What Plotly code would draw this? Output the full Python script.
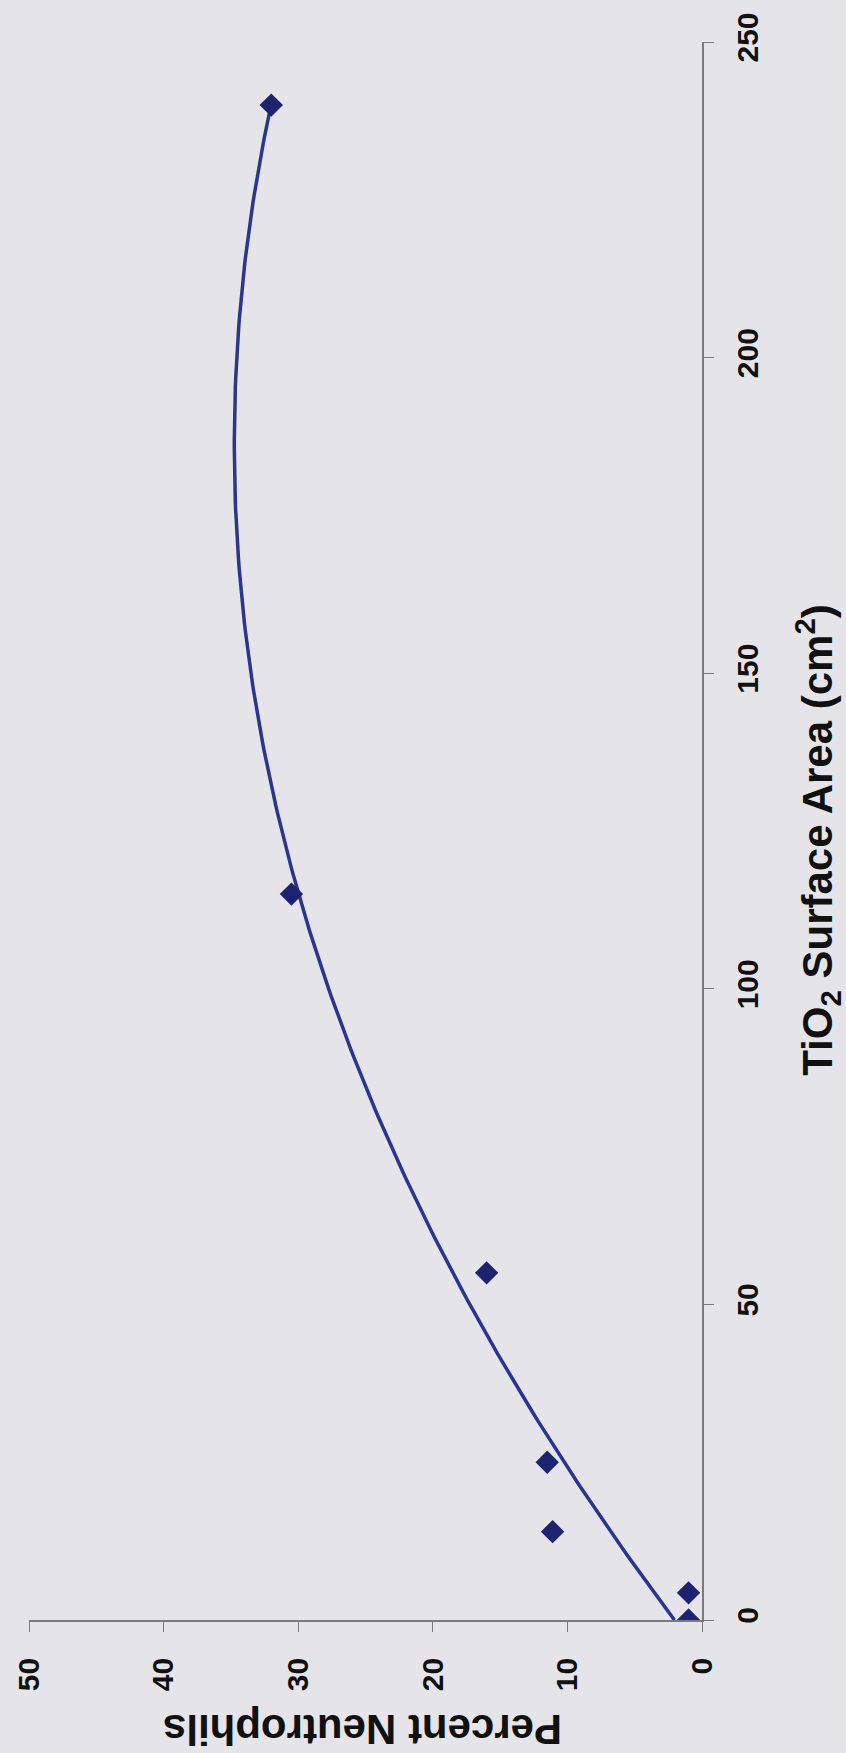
import numpy as np
import plotly.graph_objects as go

# Measured samples: TiO2 surface area (cm^2) and neutrophil percentage
surface_area = [0, 4.3, 14, 25, 55, 115, 240]
percent_neutrophils = [1.0, 1.0, 11.1, 11.5, 16.0, 30.5, 32.0]

pct_ticks = [0, 10, 20, 30, 40, 50]
area_ticks = [0, 50, 100, 150, 200, 250]

# Second-order polynomial trendline fitted to the samples
coef = np.polyfit(surface_area, percent_neutrophils, 2)
fit_area = np.linspace(0, max(surface_area), 200)
fit_pct = np.polyval(coef, fit_area)

navy = "#1c2472"
line_blue = "#2a3590"
bg = "#e5e5e9"
axis_col = "#7a7a7a"
font_family = "Liberation Sans, Arial, sans-serif"
tick_font = dict(size=30, family=font_family, color="#111111", weight="bold")

fig = go.Figure()
fig.add_trace(go.Scatter(
    x=fit_pct, y=fit_area, mode="lines",
    line=dict(color=line_blue, width=3.5),
    hoverinfo="skip", showlegend=False,
))
fig.add_trace(go.Scatter(
    x=percent_neutrophils, y=surface_area, mode="markers",
    marker=dict(symbol="diamond", size=18, color=navy),
    showlegend=False,
))

fig.update_layout(
    width=846, height=1753,
    margin=dict(l=25, r=144, t=37, b=133),
    paper_bgcolor=bg, plot_bgcolor=bg,
    font=dict(family=font_family, color="#111111"),
    xaxis=dict(
        range=[50, 0], tickvals=pct_ticks, ticktext=[str(v) for v in pct_ticks],
        tickangle=-90, ticks="outside", ticklen=10, tickcolor=axis_col,
        ticklabelstandoff=14,
        showline=True, linecolor=axis_col, linewidth=1.5,
        showgrid=False, zeroline=False, tickfont=tick_font,
    ),
    yaxis=dict(
        range=[0, 250], side="right", tickvals=area_ticks,
        ticktext=[str(v) for v in area_ticks],
        tickangle=-90, ticks="outside", ticklen=10, tickcolor=axis_col,
        ticklabelstandoff=8,
        showline=True, linecolor=axis_col, linewidth=1.5,
        showgrid=False, zeroline=False, tickfont=tick_font,
    ),
    annotations=[
        dict(
            text="<b>Percent Neutrophils</b>", textangle=180,
            xref="paper", yref="paper", x=(361 - 25) / (846 - 25 - 144),
            y=-(1730 - 1620) / (1620 - 37),
            showarrow=False, xanchor="center", yanchor="middle",
            font=dict(size=42, family=font_family, color="#111111"),
        ),
        dict(
            text="<b>TiO<sub>2</sub> Surface Area (cm<sup>2</sup>)</b>", textangle=-90,
            xref="paper", yref="paper", x=1 + (818 - 702) / (846 - 25 - 144),
            y=(1620 - 837) / (1620 - 37),
            showarrow=False, xanchor="center", yanchor="middle",
            font=dict(size=42, family=font_family, color="#111111"),
        ),
    ],
)

fig.write_html("out.html")
